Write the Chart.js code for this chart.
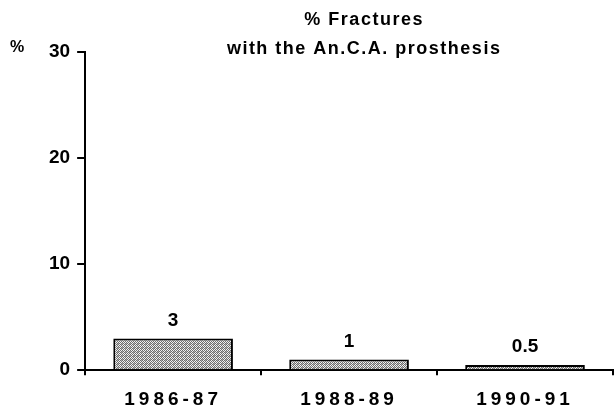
<!DOCTYPE html>
<html>
<head>
<meta charset="utf-8">
<script src="https://cdn.jsdelivr.net/npm/chart.js@4/dist/chart.umd.min.js"></script>
<style>
html,body{margin:0;padding:0;background:#fff;}
#wrap{width:616px;height:410px;}
</style>
</head>
<body>
<div id="wrap"><canvas id="fracChart"></canvas></div>
<script>
// data
let periods = ["1986-87", "1988-89", "1990-91"];
let fractures = [3, 1, 0.5];
let valueLabels = ["3", "1", "0.5"];
let yTicks = [0, 10, 20, 30];
let titleLines = ["% Fractures", "with the An.C.A. prosthesis"];

let fontFamily = "'Liberation Sans', Arial, Helvetica, sans-serif";

// stippled grey fill like the old printout
function makeStipple(){
let c = document.createElement("canvas");
c.width = 4; c.height = 4;
let g = c.getContext("2d");
g.fillStyle = "#f2f2f2";
g.fillRect(0,0,4,4);
g.fillStyle = "#6e6e6e";
for(let y=0;y<4;y++){
for(let x=0;x<4;x++){
if((x+y)%2==0) g.fillRect(x,y,1,1);
}
}
g.fillStyle = "#b0b0b0";
g.fillRect(1,0,1,1);
g.fillRect(2,3,1,1);
return g.createPattern(c,"repeat");
}

// category axis whose labels are drawn letter spaced
class SpacedCategory extends Chart.CategoryScale {
drawLabels(area){
let ctx = this.ctx;
ctx.save();
ctx.letterSpacing = "4px";
super.drawLabels(area);
ctx.restore();
}
}
SpacedCategory.id = "spacedCategory";
Chart.register(SpacedCategory);

let textPlugin = {
id:"textPlugin",
afterDraw(chart){
let ctx = chart.ctx;
let area = chart.chartArea;
ctx.save();
ctx.fillStyle = "#000";
ctx.textAlign = "center";
ctx.textBaseline = "middle";
// title
ctx.font = "bold 18px " + fontFamily;
ctx.letterSpacing = "1.5px";
ctx.fillText(titleLines[0], area.left + 279, area.top - 32);
ctx.fillText(titleLines[1], area.left + 279, area.top - 3);
// unit mark
ctx.letterSpacing = "0px";
ctx.font = "bold 16px " + fontFamily;
ctx.fillText("%", 17, chart.scales.y.getPixelForValue(30) - 4);
// value labels
ctx.font = "bold 19px " + fontFamily;
let meta = chart.getDatasetMeta(0);
meta.data.forEach((bar,i)=>{
ctx.fillText(valueLabels[i], bar.x, bar.y - 18);
});
ctx.restore();
}
};

let ctx = document.getElementById("fracChart");
let chart = new Chart(ctx,{
type:"bar",
data:{
labels:periods,
datasets:[{
data:fractures,
backgroundColor:makeStipple(),
borderColor:"#000",
borderWidth:2,
borderSkipped:"bottom",
categoryPercentage:1,
barPercentage:0.68
}]
},
options:{
responsive:true,
maintainAspectRatio:false,
animation:false,
devicePixelRatio:1,
layout:{padding:{top:52,left:42,right:3,bottom:-14}},
plugins:{
legend:{display:false},
tooltip:{enabled:false},
title:{display:false}
},
scales:{
x:{
type:"spacedCategory",
offset:true,
grid:{display:true,offset:true,drawOnChartArea:false,color:"#000",lineWidth:2,tickLength:5},
border:{color:"#000",width:2},
ticks:{color:"#000",padding:13,font:{family:fontFamily,size:19,weight:"bold"},maxRotation:0}
},
y:{
min:0,
max:30,
afterBuildTicks(scale){
scale.ticks = yTicks.map(v=>({value:v}));
},
grid:{drawOnChartArea:false,color:"#000",lineWidth:2,tickLength:8},
border:{color:"#000",width:2},
ticks:{color:"#000",padding:7,font:{family:fontFamily,size:19,weight:"bold"}}
}
}
},
plugins:[textPlugin]
});
</script>
</body>
</html>
